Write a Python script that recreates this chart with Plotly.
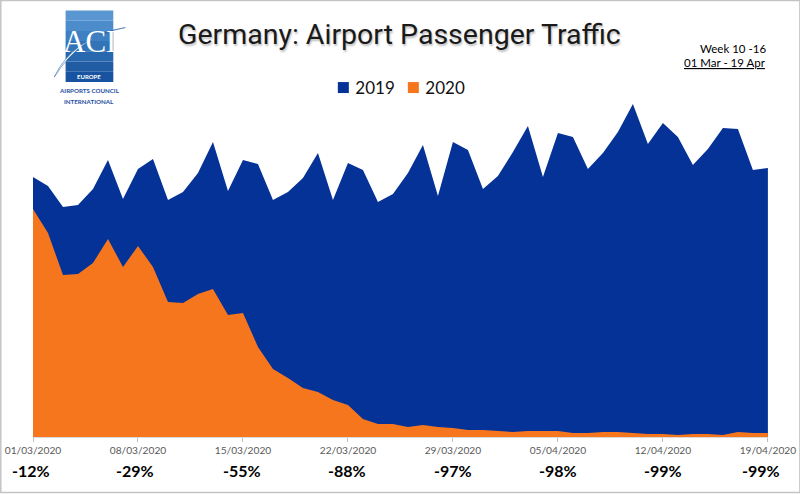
import plotly.graph_objects as go
import pandas as pd

dates = pd.date_range("2020-03-01", "2020-04-19", freq="D").strftime("%Y-%m-%d").tolist()
pax_2019 = [260, 251, 230, 232, 248, 277, 238, 268, 278, 237, 245, 264, 295, 246, 277, 273, 237, 245, 259, 284,
            237, 274, 267, 235, 243, 264, 292, 241, 295, 287, 248, 261, 285, 311, 260, 304, 300, 268, 284, 305,
            333, 293, 314, 300, 272, 288, 309, 308, 267, 269]
pax_2020 = [228, 204, 162, 163, 174, 198, 170, 191, 170, 135, 134, 143, 148, 122, 124, 90, 68, 59, 49, 45,
            37, 32, 18, 13, 13, 10, 12, 10, 9, 7, 7, 6, 5, 6, 6, 6, 4, 4, 5, 5, 4, 3, 3, 2, 3, 3, 2, 5, 4, 4]
tick_dates = ["2020-03-01", "2020-03-08", "2020-03-15", "2020-03-22", "2020-03-29", "2020-04-05", "2020-04-12", "2020-04-19"]
tick_labels = ["01/03/2020", "08/03/2020", "15/03/2020", "22/03/2020", "29/03/2020", "05/04/2020", "12/04/2020", "19/04/2020"]
changes = ["-12%", "-29%", "-55%", "-88%", "-97%", "-98%", "-99%", "-99%"]
change_shift = [-2, -3, -1, -1, 0, 0, 0, -7]

BLUE = "#043296"
ORANGE = "#F6761E"
W, H = 800, 494
L, R, T, B = 32.7, 32.4, 80, 57
PW, PH = W - L - R, H - T - B

def px(x): return (x - L) / PW
def py(y): return (H - B - y) / PH

fig = go.Figure()
fig.add_trace(go.Scatter(x=dates, y=pax_2019, mode="lines", line=dict(width=0, color=BLUE), fill="tozeroy",
                         fillcolor=BLUE, showlegend=False, hoverinfo="x+y", name="2019"))
fig.add_trace(go.Scatter(x=dates, y=pax_2020, mode="lines", line=dict(width=0, color=ORANGE), fill="tozeroy",
                         fillcolor=ORANGE, showlegend=False, hoverinfo="x+y", name="2020"))
for name, col in (("2019", BLUE), ("2020", ORANGE)):
    fig.add_trace(go.Scatter(x=[None], y=[None], mode="markers", name=name,
                             marker=dict(symbol="square", size=11, color=col)))

shapes = [dict(type="rect", xref="paper", yref="paper", x0=px(0.5), x1=px(799.5), y0=py(0.5), y1=py(492.5),
               line=dict(color="#C4C4C4", width=1.5), fillcolor="rgba(0,0,0,0)", layer="below")]
# Logo block, stepped to approximate its gradient
logo_cols = ["#5A97D2", "#4D8CCB", "#3F80C2", "#3274B8", "#2868AE", "#1F5CA4", "#1753A0"]
top, step = 10.5, 10.2
for i, c in enumerate(logo_cols):
    shapes.append(dict(type="rect", xref="paper", yref="paper", x0=px(65.3), x1=px(113), y0=py(top + i * step),
                       y1=py(top + (i + 1) * step), line=dict(width=0), fillcolor=c, layer="below"))
# Swoosh across the logo
shapes.append(dict(type="path", xref="paper", yref="paper",
                   path=f"M {px(54)} {py(77)} Q {px(72)} {py(38)} {px(125)} {py(27.5)} Q {px(80)} {py(35)} {px(54)} {py(77)} Z",
                   fillcolor="#FFFFFF", line=dict(color="#1F5CA4", width=0.5), layer="above"))

ann = []
def text(x, y, s, size, color="#000000", family="Lato", anchor="center", **font):
    ann.append(dict(xref="paper", yref="paper", x=px(x), y=py(y), text=s, showarrow=False, xanchor=anchor,
                    yanchor="middle", font=dict(size=size, color=color, family=family, **font)))

text(399, 34, "Germany: Airport Passenger Traffic", 28.5, color="#1A1A1A", family="Roboto",
     shadow="1px 2px 2px rgba(0,0,0,0.25)")
text(768, 48, "Week 10 -16", 11.5, anchor="right")
text(768, 63, "01 Mar - 19 Apr", 11.5, anchor="right", lineposition="under")
text(89, 42, "ACI", 31, color="#FFFFFF", family="Liberation Serif")
text(89, 76.5, "<b>EUROPE</b>", 6, color="#FFFFFF", family="Lato")
text(89, 90, "<b>AIRPORTS COUNCIL</b>", 6.2, color="#1F4FA0", family="Lato")
text(89, 101, "<b>INTERNATIONAL</b>", 6.2, color="#1F4FA0", family="Lato")

for d, s, dx in zip(tick_dates, changes, change_shift):
    ann.append(dict(xref="x", yref="paper", x=d, y=py(470), text=f"<b>{s}</b>", xshift=dx, showarrow=False,
                    xanchor="center", yanchor="middle", font=dict(size=16, color="#000000", family="Lato")))

fig.update_layout(
    width=W, height=H, autosize=False, paper_bgcolor="#FFFFFF", plot_bgcolor="#FFFFFF",
    margin=dict(l=L, r=R, t=T, b=B),
    xaxis=dict(type="date", range=["2020-03-01", "2020-04-19 00:10"], tickmode="array", tickvals=tick_dates,
               ticktext=tick_labels, ticks="outside", ticklen=4, tickcolor="#BFBFBF", showgrid=False,
               showline=True, linecolor="#D9D9D9", linewidth=1, zeroline=False, automargin=False,
               ticklabeloverflow="allow",
               tickfont=dict(size=10.2, color="#595959", family="Lato")),
    yaxis=dict(range=[0, 357], visible=False, showgrid=False, zeroline=False, automargin=False),
    legend=dict(orientation="h", x=px(315), xanchor="left", y=py(88), yanchor="middle",
                font=dict(size=17, color="#111111", family="Lato"), itemwidth=30,
                entrywidth=25, entrywidthmode="pixels", bgcolor="rgba(0,0,0,0)"),
    shapes=shapes, annotations=ann, showlegend=True,
)
fig.write_html("out.html", config=dict(displayModeBar=False),
               post_script="document.body.style.margin='0';"
                           "document.querySelectorAll('.legendsymbols').forEach(function(g){g.setAttribute('transform','translate(8,0)');});"
                           "document.querySelectorAll('.legend .scrollbox').forEach(function(g){g.removeAttribute('clip-path');g.style.clipPath='none';});")
